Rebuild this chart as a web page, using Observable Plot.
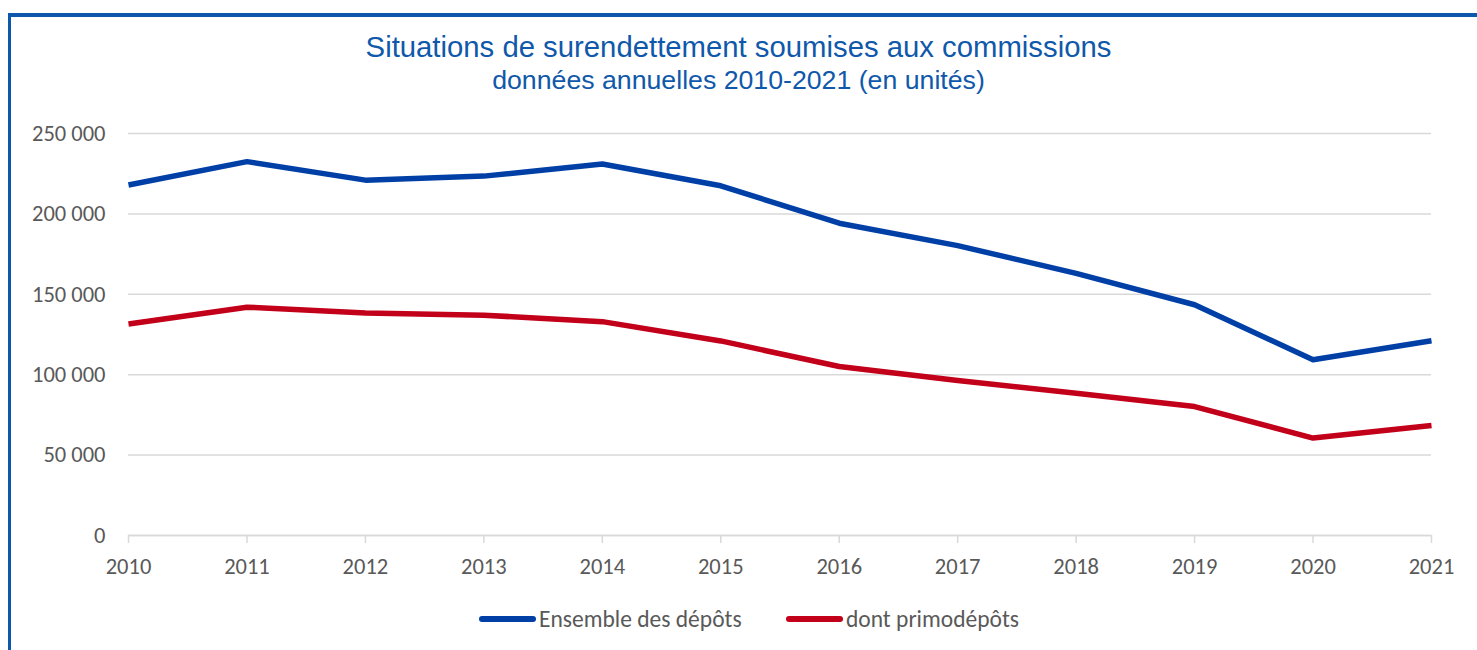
<!DOCTYPE html>
<html>
<head>
<meta charset="utf-8">
<script src="https://cdn.jsdelivr.net/npm/d3@7"></script>
<script src="https://cdn.jsdelivr.net/npm/@observablehq/plot@0.6"></script>
<style>
  html, body { margin: 0; padding: 0; background: #fff; }
  body { width: 1477px; height: 650px; overflow: hidden; position: relative; }
  #frame { position: absolute; left: 8px; top: 13px; width: 1480px; height: 660px;
           border-left: 3px solid #0d57ad; border-top: 4px solid #0d57ad; box-sizing: border-box; }
  #title { position: relative; height: 105px; text-align: center; color: #0f58aa;
           font-family: "Liberation Sans", Arial, sans-serif; }
  #t1 { position: absolute; left: 0; right: 0; top: 31px; font-size: 29.3px; line-height: 32px; }
  #t2 { position: absolute; left: 0; right: 0; top: 65px; font-size: 26.7px; line-height: 30px; }
  #chart { position: relative; height: 485px; }
  #legend { position: relative; height: 60px; font-family: Carlito, Lato, sans-serif; font-size: 23.5px; color: #595959; }
  .item { position: absolute; top: 16px; display: flex; align-items: center; height: 26px; }
  .sw { width: 57px; height: 6px; border-radius: 3px; margin-right: 3px; }
</style>
</head>
<body>
<div id="frame"></div>
<div id="title">
  <div id="t1">Situations de surendettement soumises aux commissions</div>
  <div id="t2">données annuelles 2010-2021 (en unités)</div>
</div>
<div id="chart"></div>
<div id="legend"></div>
<script>
const years = [2010, 2011, 2012, 2013, 2014, 2015, 2016, 2017, 2018, 2019, 2020, 2021];
const ensemble = [218000, 232500, 221000, 223500, 231000, 217500, 194200, 180300, 163000, 143500, 109300, 121100];
const primo = [131500, 142000, 138300, 137000, 133000, 121000, 105100, 96400, 88400, 80200, 60600, 68400];
const seriesNames = ["Ensemble des dépôts", "dont primodépôts"];
const seriesColors = ["#0040a6", "#c3001a"];
const yTicks = [0, 50000, 100000, 150000, 200000, 250000];

const data = [];
years.forEach((y, i) => {
  data.push({year: y, value: ensemble[i], series: seriesNames[0]});
  data.push({year: y, value: primo[i], series: seriesNames[1]});
});

const fmt = d => d3.format(",")(d).replace(/,/g, " ");

const plot = Plot.plot({
  width: 1477,
  height: 485,
  marginLeft: 128,
  marginRight: 46,
  marginTop: 28,
  marginBottom: 55,
  style: { fontFamily: "Carlito, Lato, sans-serif", fontSize: "22.5px", color: "#595959", background: "transparent", overflow: "visible" },
  x: { domain: [2010, 2021], ticks: years, tickFormat: "d", label: null },
  y: { domain: [0, 250000], ticks: yTicks, tickFormat: fmt, label: null },
  color: { domain: seriesNames, range: seriesColors },
  marks: [
    Plot.gridY(yTicks, { stroke: "#d9d9d9", strokeOpacity: 1, strokeWidth: 1.5 }),
    Plot.axisY(yTicks, { tickSize: 0, tickPadding: 23, fill: "#595959", tickFormat: fmt, label: null }),
    Plot.axisX(years, { tickSize: 8, tickPadding: 15, stroke: "#d9d9d9", strokeWidth: 1.5, fill: "#595959", tickFormat: "d", label: null }),
    Plot.ruleY([0], { stroke: "#d9d9d9", strokeWidth: 1.5 }),
    Plot.line(data, { x: "year", y: "value", z: "series", stroke: "series", strokeWidth: 5.5, strokeLinejoin: "round", strokeLinecap: "butt" })
  ]
});
document.getElementById("chart").appendChild(plot);

const legend = document.getElementById("legend");
const lefts = [479, 786];
seriesNames.forEach((n, i) => {
  const it = document.createElement("div");
  it.className = "item";
  it.style.left = lefts[i] + "px";
  const sw = document.createElement("div");
  sw.className = "sw";
  sw.style.background = seriesColors[i];
  const tx = document.createElement("span");
  tx.textContent = n;
  it.appendChild(sw);
  it.appendChild(tx);
  legend.appendChild(it);
});
</script>
</body>
</html>
